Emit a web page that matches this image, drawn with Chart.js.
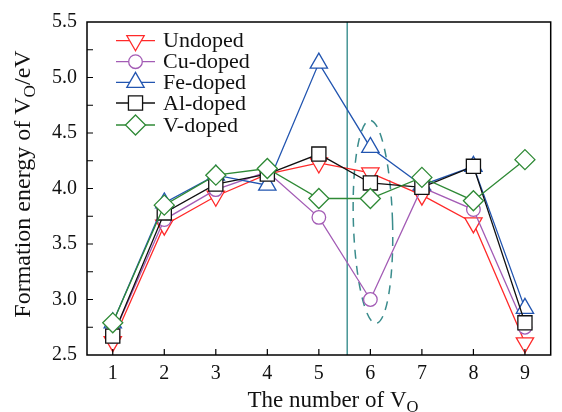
<!DOCTYPE html>
<html>
<head>
<meta charset="utf-8">
<script src="https://cdn.jsdelivr.net/npm/chart.js"></script>
<style>
  html, body { margin: 0; padding: 0; background: #fff; }
  #wrap { width: 562px; height: 412px; }
</style>
</head>
<body>
<div id="wrap"><canvas id="chart" width="562" height="412"></canvas></div>
<script>
// data
const vacancies = [1, 2, 3, 4, 5, 6, 7, 8, 9];
const undoped = [2.62, 3.67, 3.93, 4.13, 4.23, 4.14, 3.94, 3.69, 2.61];
const cuDoped = [2.67, 3.72, 3.99, 4.15, 3.74, 3.00, 4.01, 3.81, 2.75];
const feDoped = [2.79, 3.87, 4.12, 4.03, 5.13, 4.37, 4.03, 4.20, 2.92];
const alDoped = [2.67, 3.78, 4.04, 4.13, 4.31, 4.05, 4.01, 4.20, 2.79];
const vDoped  = [2.79, 3.85, 4.12, 4.18, 3.91, 3.91, 4.10, 3.89, 4.26];
const xTicks = [1, 2, 3, 4, 5, 6, 7, 8, 9];
const yTicks = [2.5, 2.75, 3.0, 3.25, 3.5, 3.75, 4.0, 4.25, 4.5, 4.75, 5.0, 5.25, 5.5];
const yTickLabels = ['2.5', '3.0', '3.5', '4.0', '4.5', '5.0', '5.5'];
const dividerX = 5.55;
// highlighted region around the Cu point at 6
const ellipse = { x: 6.05, y: 3.70, rx: 0.38, ry: 0.915 };

const FONT = "'Liberation Serif', 'DejaVu Serif', serif";

const series = [
  { label: 'Undoped',  data: undoped, color: '#ff2a2a', style: 'triangle', rot: 180, r: 10, order: 4 },
  { label: 'Cu-doped', data: cuDoped, color: '#a35cb5', style: 'circle',   rot: 0,   r: 6.8, order: 3 },
  { label: 'Fe-doped', data: feDoped, color: '#2255b0', style: 'triangle', rot: 0,   r: 10, order: 2 },
  { label: 'Al-doped', data: alDoped, color: '#111111', style: 'rect',     rot: 0,   r: 10, order: 1 },
  { label: 'V-doped',  data: vDoped,  color: '#2f8a36', style: 'rectRot',  rot: 0,   r: 10, order: 0 }
];

function drawMarker(ctx, s, x, y) {
  ctx.save();
  ctx.beginPath();
  ctx.fillStyle = '#fff';
  ctx.strokeStyle = s.color;
  ctx.lineWidth = 1.3;
  if (s.style === 'circle') {
    ctx.arc(x, y, s.r, 0, Math.PI * 2);
  } else if (s.style === 'rect') {
    const h = s.r * Math.SQRT1_2;
    ctx.rect(x - h, y - h, 2 * h, 2 * h);
  } else if (s.style === 'rectRot') {
    ctx.moveTo(x, y - s.r); ctx.lineTo(x + s.r, y); ctx.lineTo(x, y + s.r); ctx.lineTo(x - s.r, y);
    ctx.closePath();
  } else {
    const sgn = s.rot === 180 ? -1 : 1;
    for (let k = 0; k < 3; k++) {
      const a = k * 2 * Math.PI / 3;
      const px = x + Math.sin(a) * s.r;
      const py = y - sgn * Math.cos(a) * s.r;
      if (k === 0) ctx.moveTo(px, py); else ctx.lineTo(px, py);
    }
    ctx.closePath();
  }
  ctx.fill();
  ctx.stroke();
  ctx.restore();
}

function measureSub(ctx, main, sub, after, size) {
  ctx.font = size + 'px ' + FONT;
  const w1 = ctx.measureText(main).width;
  ctx.font = (size * 0.72) + 'px ' + FONT;
  const w2 = ctx.measureText(sub).width;
  ctx.font = size + 'px ' + FONT;
  const w3 = ctx.measureText(after).width;
  return { w1, w2, w3, total: w1 + w2 + w3 };
}

function drawSubText(ctx, x, y, main, sub, after, size) {
  const m = measureSub(ctx, main, sub, after, size);
  let cx = x - m.total / 2;
  ctx.textAlign = 'left';
  ctx.textBaseline = 'alphabetic';
  ctx.font = size + 'px ' + FONT;
  ctx.fillText(main, cx, y);
  cx += m.w1;
  ctx.font = (size * 0.72) + 'px ' + FONT;
  ctx.fillText(sub, cx, y + size * 0.22);
  cx += m.w2;
  ctx.font = size + 'px ' + FONT;
  ctx.fillText(after, cx, y);
}

const decorations = {
  id: 'decorations',
  beforeDatasetsDraw(chart) {
    const { ctx, chartArea: a, scales: { x, y } } = chart;
    // vertical divider
    ctx.save();
    ctx.strokeStyle = '#2b8585';
    ctx.lineWidth = 1.3;
    const vx = x.getPixelForValue(dividerX);
    ctx.beginPath(); ctx.moveTo(vx, a.top); ctx.lineTo(vx, a.bottom); ctx.stroke();
    // dashed ellipse
    const cx = x.getPixelForValue(ellipse.x), cy = y.getPixelForValue(ellipse.y);
    const rx = Math.abs(x.getPixelForValue(ellipse.x + ellipse.rx) - cx);
    const ry = Math.abs(y.getPixelForValue(ellipse.y + ellipse.ry) - cy);
    ctx.setLineDash([9, 7]);
    ctx.strokeStyle = '#3a8c8c';
    ctx.lineWidth = 1.5;
    ctx.beginPath(); ctx.ellipse(cx, cy, rx, ry, -0.03, 0, Math.PI * 2); ctx.stroke();
    ctx.restore();
  },
  afterDraw(chart) {
    const { ctx, chartArea: a, scales: { x, y } } = chart;
    ctx.save();
    // frame
    ctx.strokeStyle = '#000';
    ctx.lineWidth = 1.5;
    ctx.strokeRect(a.left, a.top, a.right - a.left, a.bottom - a.top);
    // inward ticks
    ctx.lineWidth = 1.2;
    ctx.beginPath();
    yTicks.forEach(v => {
      const py = y.getPixelForValue(v);
      if (py <= a.top + 1 || py >= a.bottom - 1) return;
      ctx.moveTo(a.left, py); ctx.lineTo(a.left + 6, py);
    });
    xTicks.forEach(v => {
      const px = x.getPixelForValue(v);
      ctx.moveTo(px, a.bottom); ctx.lineTo(px, a.bottom - 6);
    });
    ctx.stroke();
    // axis titles
    ctx.fillStyle = '#111';
    drawSubText(ctx, 333, 407, 'The number of V', 'O', '', 23);
    ctx.translate(30, 184);
    ctx.rotate(-Math.PI / 2);
    drawSubText(ctx, 0, 0, 'Formation energy of V', 'O', '/eV', 24);
    ctx.restore();
    // legend
    ctx.save();
    const rows = [40.7, 61.7, 82.3, 103, 125];
    series.forEach((s, i) => {
      const ly = rows[i];
      ctx.strokeStyle = s.color;
      ctx.lineWidth = 1.3;
      ctx.beginPath(); ctx.moveTo(116, ly); ctx.lineTo(155, ly); ctx.stroke();
      drawMarker(ctx, s, 135.5, ly);
      ctx.fillStyle = '#111';
      ctx.font = '22px ' + FONT;
      ctx.textAlign = 'left';
      ctx.textBaseline = 'alphabetic';
      ctx.fillText(s.label, 163, ly + 6.5);
    });
    ctx.restore();
  }
};

new Chart(document.getElementById('chart'), {
  type: 'line',
  data: {
    labels: vacancies,
    datasets: series.map(s => ({
      label: s.label,
      data: vacancies.map((v, i) => ({ x: v, y: s.data[i] })),
      borderColor: s.color,
      borderWidth: 1.3,
      pointStyle: s.style,
      rotation: s.rot,
      pointRadius: s.r,
      pointHoverRadius: s.r,
      pointBorderWidth: 1.3,
      pointBackgroundColor: '#fff',
      pointBorderColor: s.color,
      tension: 0,
      fill: false,
      order: s.order
    }))
  },
  options: {
    responsive: false,
    animation: false,
    layout: { padding: { top: 13, right: 6, left: 0, bottom: 0 } },
    plugins: { legend: { display: false }, tooltip: { enabled: false } },
    scales: {
      x: {
        type: 'linear',
        min: 0.5,
        max: 9.5,
        grid: { display: false, drawTicks: false, tickLength: 0 },
        border: { display: false },
        afterBuildTicks: s => { s.ticks = xTicks.map(v => ({ value: v })); },
        afterFit: s => { s.height = 57; },
        ticks: {
          autoSkip: false,
          maxRotation: 0,
          padding: 7,
          color: '#111',
          font: { family: FONT, size: 20 },
          callback: v => String(v)
        }
      },
      y: {
        min: 2.5,
        max: 5.5,
        grid: { display: false, drawTicks: false, tickLength: 0 },
        border: { display: false },
        afterBuildTicks: s => { s.ticks = yTickLabels.map(v => ({ value: parseFloat(v) })); },
        afterFit: s => { s.width = 87; },
        ticks: {
          autoSkip: false,
          padding: 10,
          color: '#111',
          font: { family: FONT, size: 20 },
          callback: v => v.toFixed(1)
        }
      }
    }
  },
  plugins: [decorations]
});
</script>
</body>
</html>
